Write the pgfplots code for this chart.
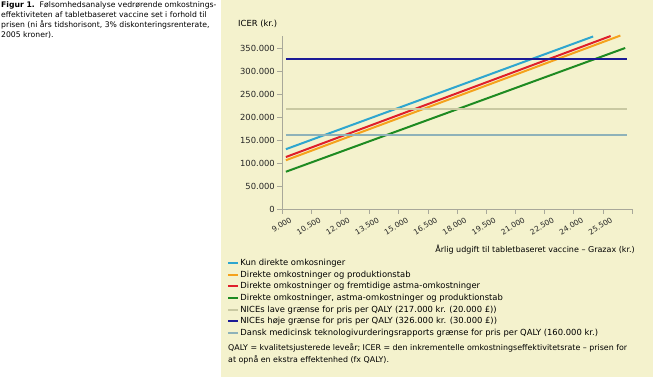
\documentclass[border=0pt]{standalone}
\usepackage{fontspec}
\setmainfont{DejaVu Sans}
\usepackage{pgfplots}
\pgfplotsset{compat=1.18}
\definecolor{panel}{HTML}{F4F2CD}
\definecolor{cCyan}{HTML}{2EA6CF}
\definecolor{cOrange}{HTML}{F5A21C}
\definecolor{cRed}{HTML}{DF1F2B}
\definecolor{cGreen}{HTML}{1E8B22}
\definecolor{cLow}{HTML}{C9C9A2}
\definecolor{cHigh}{HTML}{1B1B96}
\definecolor{cDan}{HTML}{8EB2B9}
\definecolor{axgray}{HTML}{A8A89A}
\begin{document}
\begin{tikzpicture}[x=1pt,y=1pt]
\fill[white] (0,0) rectangle (653,377);
\fill[panel] (221,0) rectangle (653,377);
\begin{scope}[font=\fontsize{7.7}{9}\selectfont]
\node[anchor=west,inner sep=0] at (1,372) {\textbf{Figur 1.}\ \ Følsomhedsanalyse vedrørende omkostnings-};
\node[anchor=west,inner sep=0] at (1,362) {effektiviteten af tabletbaseret vaccine set i forhold til};
\node[anchor=west,inner sep=0] at (1,352) {prisen (ni års tidshorisont, 3\% diskonteringsrenterate,};
\node[anchor=west,inner sep=0] at (1,342) {2005 kroner).};
\end{scope}
\begin{axis}[
  at={(282pt,168pt)}, anchor=south west,
  scale only axis, width=350pt, height=172.5pt,
  xmin=9000, xmax=27000, ymin=0, ymax=375000,
  clip=false,
  axis x line=bottom, axis y line=left,
  axis line style={-, draw=axgray, line width=0.8pt},
  tick style={draw=axgray, line width=0.6pt},
  tick align=outside, major tick length=5pt,
  xtick={9000,10500,...,25500},
  extra x ticks={27000}, extra x tick labels={},
  ytick={0,50000,...,350000},
  scaled ticks=false,
  /pgf/number format/.cd, fixed, 1000 sep={.}, assume math mode=true,
  /pgfplots/.cd,
  ticklabel style={font=\fontsize{8.4}{10}\selectfont, text=black!85},
  yticklabel style={inner sep=2pt},
  xticklabel style={font=\fontsize{7.5}{8}\selectfont, rotate=31, anchor=north east, inner sep=0pt, xshift=5pt, yshift=-6pt},
  legend style={at={(axis description cs:-0.157,-0.282)}, anchor=north west,
    draw=none, fill=none, font=\fontsize{8.4}{9}\selectfont, row sep=1.4pt,
    inner sep=0pt, nodes={inner sep=1.2pt}, /tikz/every even column/.append style={column sep=3pt}},
  legend cell align=left,
  legend image code/.code={\draw[#1, line width=2pt] (0pt,0pt) -- (10pt,0pt);},
  every axis plot/.append style={line width=2pt},
]
\addplot[cCyan] coordinates {(9200,130000) (25000,375000)};
\addlegendentry{Kun direkte omkosninger}
\addplot[cOrange] coordinates {(9200,106000) (26400,377000)};
\addlegendentry{Direkte omkostninger og produktionstab}
\addplot[cRed] coordinates {(9200,113000) (25900,376000)};
\addlegendentry{Direkte omkostninger og fremtidige astma-omkostninger}
\addplot[cGreen] coordinates {(9200,81000) (26650,350000)};
\addlegendentry{Direkte omkostninger, astma-omkostninger og produktionstab}
\addplot[cLow] coordinates {(9200,217000) (26750,217000)};
\addlegendentry{NICEs lave grænse for pris per QALY (217.000 kr. (20.000 £))}
\addplot[cHigh] coordinates {(9200,326000) (26750,326000)};
\addlegendentry{NICEs høje grænse for pris per QALY (326.000 kr. (30.000 £))}
\addplot[cDan] coordinates {(9200,160000) (26750,160000)};
\addlegendentry{Dansk medicinsk teknologivurderingsrapports grænse for pris per QALY (160.000 kr.)}
\end{axis}
\begin{scope}[font=\fontsize{8.4}{9}\selectfont]
\node[anchor=west,inner sep=0] at (238,353) {ICER (kr.)};
\end{scope}
\node[anchor=east,inner sep=0,font=\fontsize{8.0}{9}\selectfont] at (635,127) {Årlig udgift til tabletbaseret vaccine – Grazax (kr.)};
\begin{scope}[font=\fontsize{7.9}{9}\selectfont]
\node[anchor=west,inner sep=0] at (228,29) {QALY = kvalitetsjusterede leveår; ICER = den inkrementelle omkostningseffektivitetsrate – prisen for};
\node[anchor=west,inner sep=0] at (228,17) {at opnå en ekstra effektenhed (fx QALY).};
\end{scope}
\end{tikzpicture}
\end{document}
